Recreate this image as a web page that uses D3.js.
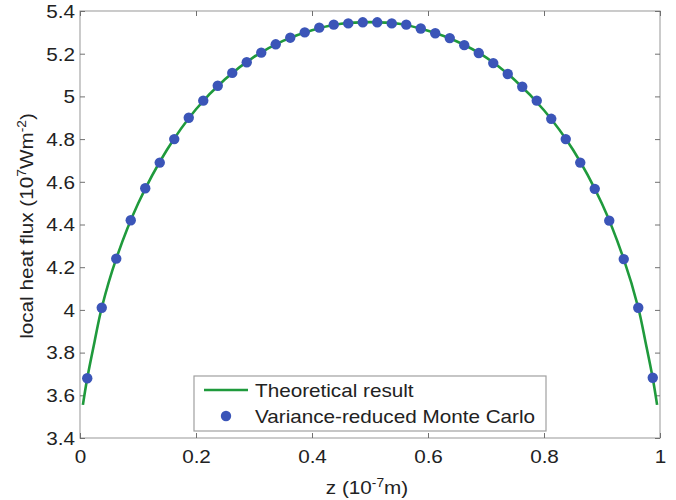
<!DOCTYPE html>
<html>
<head>
<meta charset="utf-8">
<script src="https://cdn.jsdelivr.net/npm/d3@7"></script>
<style>
  html, body { margin: 0; padding: 0; background: #fff; }
  text { font-family: "Liberation Sans", Arial, sans-serif; fill: #222; }
</style>
</head>
<body>
<div id="chart"></div>
<script>
// Monte Carlo samples, z in 1e-7 m, flux in 1e7 W/m^2
const zDots = [0.0125, 0.0375, 0.0625, 0.0875, 0.1125, 0.1375, 0.1625, 0.1875, 0.2125, 0.2375,
               0.2625, 0.2875, 0.3125, 0.3375, 0.3625, 0.3875, 0.4125, 0.4375, 0.4625, 0.4875,
               0.5125, 0.5375, 0.5625, 0.5875, 0.6125, 0.6375, 0.6625, 0.6875, 0.7125, 0.7375,
               0.7625, 0.7875, 0.8125, 0.8375, 0.8625, 0.8875, 0.9125, 0.9375, 0.9625, 0.9875];
const fluxDots = [3.68, 4.01, 4.24, 4.42, 4.57, 4.69, 4.80, 4.90, 4.98, 5.05,
                  5.11, 5.16, 5.205, 5.244, 5.275, 5.30, 5.322, 5.336, 5.342, 5.347,
                  5.347, 5.342, 5.336, 5.318, 5.296, 5.273, 5.24, 5.203, 5.156, 5.105,
                  5.045, 4.98, 4.895, 4.80, 4.69, 4.567, 4.418, 4.238, 4.01, 3.682];

// theoretical curve
const zLine = [0.005, 0.0125, 0.025, 0.0375, 0.0625, 0.1, 0.15, 0.2, 0.25, 0.3, 0.35, 0.4, 0.45, 0.5,
               0.55, 0.6, 0.65, 0.7, 0.75, 0.8, 0.85, 0.9, 0.9375, 0.9625, 0.975, 0.9875, 0.995];
const fluxLine = [3.555, 3.68, 3.85, 4.01, 4.24, 4.497, 4.75, 4.94, 5.08, 5.185, 5.26, 5.31, 5.34, 5.348,
                  5.34, 5.307, 5.257, 5.183, 5.076, 4.935, 4.75, 4.497, 4.238, 4.01, 3.85, 3.68, 3.555];

const xTicks = [0, 0.2, 0.4, 0.6, 0.8, 1];
const yTicks = [3.4, 3.6, 3.8, 4, 4.2, 4.4, 4.6, 4.8, 5, 5.2, 5.4];

const W = 676, H = 500;
const plot = { left: 80, right: 660, top: 11, bottom: 438 };
const STRETCH = 1.15; // glyphs in the figure are a bit wider than Arial
const GREEN = '#1f9a3c';
const BLUE = '#3b55b8';

const svg = d3.select('#chart').append('svg')
    .attr('width', W)
    .attr('height', H);

const x = d3.scaleLinear().domain([0, 1]).range([plot.left, plot.right]);
const y = d3.scaleLinear().domain([3.4, 5.4]).range([plot.bottom, plot.top]);

const fmt = d => String(+d.toFixed(1));

// frame
svg.append('rect')
    .attr('x', plot.left).attr('y', plot.top)
    .attr('width', plot.right - plot.left)
    .attr('height', plot.bottom - plot.top)
    .attr('fill', 'none')
    .attr('stroke', '#a8a8a8')
    .attr('stroke-width', 1.2);

const styleAxis = function(g) {
    g.select('.domain').remove();
    g.selectAll('.tick line').attr('stroke', '#707070').attr('stroke-width', 1);
    g.selectAll('.tick text').style('font-size', '18px').attr('fill', '#222');
};

// bottom
svg.append('g')
    .attr('transform', `translate(0,${plot.bottom})`)
    .call(d3.axisBottom(x).tickValues(xTicks).tickFormat(fmt).tickSizeInner(-5).tickSizeOuter(0))
    .call(styleAxis)
    .call(g => g.selectAll('.tick text')
        .attr('y', 25).attr('dy', 0)
        .attr('transform', `scale(${STRETCH},1)`));

// left
svg.append('g')
    .attr('transform', `translate(${plot.left},0)`)
    .call(d3.axisLeft(y).tickValues(yTicks).tickFormat(fmt).tickSizeInner(-5).tickSizeOuter(0))
    .call(styleAxis)
    .call(g => g.selectAll('.tick text')
        .attr('x', -5 / STRETCH).attr('dy', '0.35em')
        .attr('transform', `scale(${STRETCH},1)`));

// top and right: ticks only
svg.append('g')
    .attr('transform', `translate(0,${plot.top})`)
    .call(d3.axisTop(x).tickValues(xTicks).tickFormat('').tickSizeInner(-5).tickSizeOuter(0))
    .call(styleAxis);

svg.append('g')
    .attr('transform', `translate(${plot.right},0)`)
    .call(d3.axisRight(y).tickValues(yTicks).tickFormat('').tickSizeInner(-5).tickSizeOuter(0))
    .call(styleAxis);

// theoretical curve
const lineData = zLine.map((z, i) => ({ z: z, v: fluxLine[i] }));
const line = d3.line()
    .x(d => x(d.z))
    .y(d => y(d.v))
    .curve(d3.curveCatmullRom.alpha(0.5));

svg.append('path')
    .datum(lineData)
    .attr('fill', 'none')
    .attr('stroke', GREEN)
    .attr('stroke-width', 2.6)
    .attr('d', line);

// Monte Carlo points
const dotData = zDots.map((z, i) => ({ z: z, v: fluxDots[i] }));
svg.append('g')
    .selectAll('circle')
    .data(dotData)
    .enter()
    .append('circle')
    .attr('cx', d => x(d.z))
    .attr('cy', d => y(d.v))
    .attr('r', 5.2)
    .attr('fill', BLUE);

// legend
const legend = svg.append('g');
legend.append('rect')
    .attr('x', 194).attr('y', 376)
    .attr('width', 352).attr('height', 55)
    .attr('fill', '#fff')
    .attr('stroke', '#a0a0a0')
    .attr('stroke-width', 1.2);

legend.append('line')
    .attr('x1', 204).attr('x2', 248)
    .attr('y1', 390).attr('y2', 390)
    .attr('stroke', GREEN)
    .attr('stroke-width', 2.6);

legend.append('circle')
    .attr('cx', 226).attr('cy', 416)
    .attr('r', 5.2)
    .attr('fill', BLUE);

const legendText = [
    { label: 'Theoretical result', y: 397 },
    { label: 'Variance-reduced Monte Carlo', y: 423 }
];
legend.selectAll('.legend-label')
    .data(legendText)
    .enter()
    .append('text')
    .attr('class', 'legend-label')
    .attr('transform', d => `translate(255,${d.y}) scale(${STRETCH},1)`)
    .style('font-size', '18px')
    .text(d => d.label);

// axis labels
const xLabel = svg.append('text')
    .attr('transform', `translate(367,494) scale(${STRETCH},1)`)
    .attr('text-anchor', 'middle')
    .style('font-size', '18px');
xLabel.append('tspan').text('z (10');
xLabel.append('tspan').attr('dy', -7).style('font-size', '12px').text('-7');
xLabel.append('tspan').attr('dy', 7).text('m)');

const yLabel = svg.append('text')
    .attr('transform', `translate(33,226) rotate(-90) scale(${STRETCH},1)`)
    .attr('text-anchor', 'middle')
    .style('font-size', '18px');
yLabel.append('tspan').text('local heat flux (10');
yLabel.append('tspan').attr('dy', -7).style('font-size', '12px').text('7');
yLabel.append('tspan').attr('dy', 7).text('Wm');
yLabel.append('tspan').attr('dy', -7).style('font-size', '12px').text('-2');
yLabel.append('tspan').attr('dy', 7).text(')');
</script>
</body>
</html>
